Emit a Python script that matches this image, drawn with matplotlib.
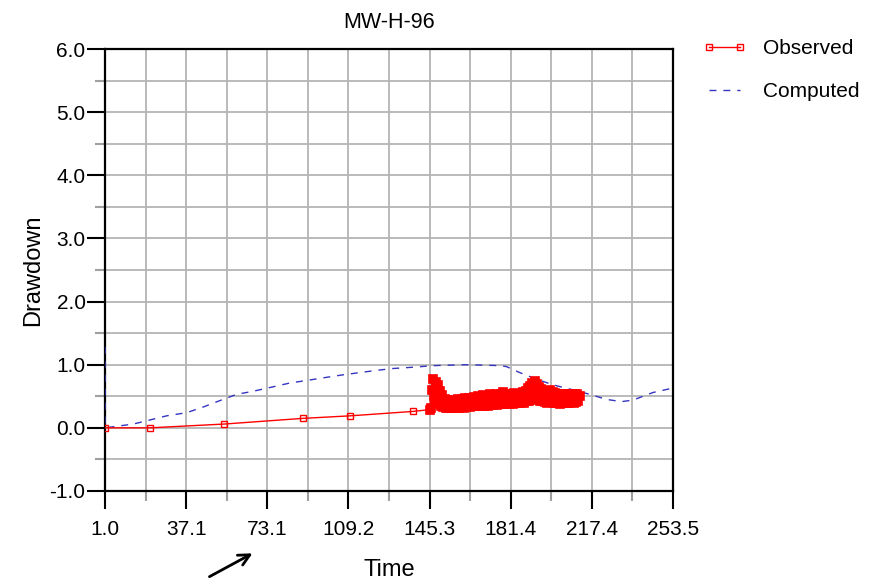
import numpy as np
import matplotlib
matplotlib.use('Agg')
import matplotlib.pyplot as plt

plt.rcParams['font.family'] = ['Liberation Sans', 'DejaVu Sans']

# observed drawdown, sparse early readings
obs_t_early = [1.0, 21.0, 54.0, 89.0, 110.0, 138.0, 145.7]
obs_s_early = [0.0, 0.0, 0.06, 0.15, 0.19, 0.26, 0.29]

# observed drawdown, dense logger readings (every half time unit)
obs_t_dense = [145.7, 146.0, 146.5, 147.0, 147.5, 148.0, 148.5, 149.0, 149.5, 150.0, 150.5,
               151.0, 151.5, 152.0, 152.5, 153.0, 153.5, 154.0, 154.5, 155.0, 155.5,
               156.0, 156.5, 157.0, 157.5, 158.0, 158.5, 159.0, 159.5, 160.0, 160.5,
               161.0, 161.5, 162.0, 162.5, 163.0, 163.5, 164.0, 164.5, 165.0, 165.5,
               166.0, 166.5, 167.0, 167.5, 168.0, 168.5, 169.0, 169.5, 170.0, 170.5,
               171.0, 171.5, 172.0, 172.5, 173.0, 173.5, 174.0, 174.5, 175.0, 175.5,
               176.0, 176.5, 177.0, 177.5, 178.0, 178.5, 179.0, 179.5, 180.0, 180.5,
               181.0, 181.5, 182.0, 182.5, 183.0, 183.5, 184.0, 184.5, 185.0, 185.5,
               186.0, 186.5, 187.0, 187.5, 188.0, 188.5, 189.0, 189.5, 190.0, 190.5,
               191.0, 191.5, 192.0, 192.5, 193.0, 193.5, 194.0, 194.5, 195.0, 195.5,
               196.0, 196.5, 197.0, 197.5, 198.0, 198.5, 199.0, 199.5, 200.0, 200.5,
               201.0, 201.5, 202.0, 202.5, 203.0, 203.5, 204.0, 204.5, 205.0, 205.5,
               206.0, 206.5, 207.0, 207.5, 208.0, 208.5, 209.0, 209.5, 210.0, 210.5,
               211.0, 211.5, 212.0]
obs_s_dense = [0.29, 0.32, 0.60, 0.78, 0.50, 0.72, 0.42, 0.68, 0.38, 0.58, 0.34,
               0.52, 0.33, 0.46, 0.31, 0.44, 0.32, 0.43, 0.31, 0.42, 0.32,
               0.44, 0.31, 0.43, 0.33, 0.45, 0.32, 0.44, 0.34, 0.46, 0.32,
               0.47, 0.33, 0.45, 0.34, 0.48, 0.33, 0.46, 0.35, 0.49, 0.34,
               0.48, 0.35, 0.51, 0.34, 0.49, 0.36, 0.52, 0.35, 0.50, 0.36,
               0.51, 0.35, 0.53, 0.37, 0.50, 0.36, 0.52, 0.37, 0.54, 0.36,
               0.51, 0.38, 0.53, 0.37, 0.56, 0.38, 0.52, 0.39, 0.54, 0.38,
               0.51, 0.39, 0.53, 0.38, 0.55, 0.40, 0.52, 0.39, 0.54, 0.40,
               0.53, 0.41, 0.56, 0.40, 0.59, 0.42, 0.63, 0.43, 0.67, 0.45,
               0.71, 0.46, 0.74, 0.45, 0.69, 0.44, 0.65, 0.43, 0.61, 0.42,
               0.58, 0.41, 0.59, 0.40, 0.56, 0.42, 0.60, 0.41, 0.57, 0.40,
               0.55, 0.39, 0.53, 0.40, 0.54, 0.38, 0.52, 0.39, 0.53, 0.40,
               0.52, 0.39, 0.54, 0.40, 0.53, 0.41, 0.52, 0.40, 0.54, 0.41,
               0.53, 0.42, 0.50]

# computed drawdown
comp_t = [1.0, 1.0, 13.6, 21.0, 28.4, 37.3, 44.7, 52.0, 59.5, 66.9, 75.8, 83.2, 90.6,
          99.5, 106.9, 114.3, 121.7, 129.1, 138.0, 146.9, 161.7, 176.6, 179.5, 185.4,
          192.9, 200.3, 209.2, 216.6, 224.0, 230.7, 235.8, 244.7, 253.5]
comp_s = [1.28, 0.0, 0.06, 0.125, 0.19, 0.24, 0.33, 0.43, 0.53, 0.58, 0.65, 0.71, 0.75,
          0.80, 0.84, 0.875, 0.91, 0.94, 0.96, 0.985, 1.0, 0.985, 0.97, 0.875,
          0.77, 0.68, 0.60, 0.53, 0.45, 0.415, 0.44, 0.56, 0.63]

x_ticks = [1.0, 37.07, 73.14, 109.21, 145.29, 181.36, 217.43, 253.5]
x_labels = ['1.0', '37.1', '73.1', '109.2', '145.3', '181.4', '217.4', '253.5']
y_ticks = [-1.0, 0.0, 1.0, 2.0, 3.0, 4.0, 5.0, 6.0]
y_labels = ['-1.0', '0.0', '1.0', '2.0', '3.0', '4.0', '5.0', '6.0']

fig = plt.figure(figsize=(8.75, 5.82), dpi=100)
ax = fig.add_axes([0.12, 0.1564, 0.649, 0.7594])

ax.plot(obs_t_early, obs_s_early, color='red', lw=1.0, marker='s', ms=4,
        mfc='none', mec='red', mew=1.0, label='Observed', zorder=4)
ax.plot(obs_t_dense, obs_s_dense, color='red', lw=2.5, marker='s', ms=5.5,
        mfc='red', mec='red', mew=1.2, zorder=4)
ax.plot(comp_t, comp_s, color='#3535c0', lw=1.0, dashes=(5, 5),
        label='Computed', zorder=3)

ax.set_xlim(1.0, 253.5)
ax.set_ylim(-1.0, 6.0)
ax.set_xticks(x_ticks)
ax.set_xticklabels(x_labels)
ax.set_yticks(y_ticks)
ax.set_yticklabels(y_labels)
x_minor = [(a + b) / 2 for a, b in zip(x_ticks[:-1], x_ticks[1:])]
ax.set_xticks(x_minor, minor=True)
ax.set_yticks([-0.5, 0.5, 1.5, 2.5, 3.5, 4.5, 5.5], minor=True)

ax.grid(True, which='both', color='#b4b4b4', lw=1.3, zorder=0)
ax.set_axisbelow(True)
ax.tick_params(axis='both', which='major', length=13, width=1.5, labelsize=15, color='black')
ax.tick_params(axis='both', which='minor', length=7.5, width=1.5, color='#a0a0a0')
ax.tick_params(axis='y', which='major', pad=1)
ax.tick_params(axis='x', which='major', pad=8)
for sp in ax.spines.values():
    sp.set_linewidth(1.6)
    sp.set_color('black')

ax.set_title('MW-H-96', fontsize=15.5, pad=15)
ax.set_xlabel('Time', fontsize=17, labelpad=14)
ax.set_ylabel('Drawdown', fontsize=17, labelpad=4)

leg = ax.legend(loc='upper left', bbox_to_anchor=(1.02, 1.065), frameon=False,
                fontsize=15, numpoints=2, handlelength=2.1, handletextpad=0.8,
                labelspacing=1.15)

ax.annotate('', xy=(0.2914, 0.0515), xytext=(0.2366, 0.0069),
            xycoords='figure fraction', textcoords='figure fraction',
            arrowprops=dict(arrowstyle='->', lw=2, color='black',
                            mutation_scale=20))

fig.savefig('out.png', dpi=100)
